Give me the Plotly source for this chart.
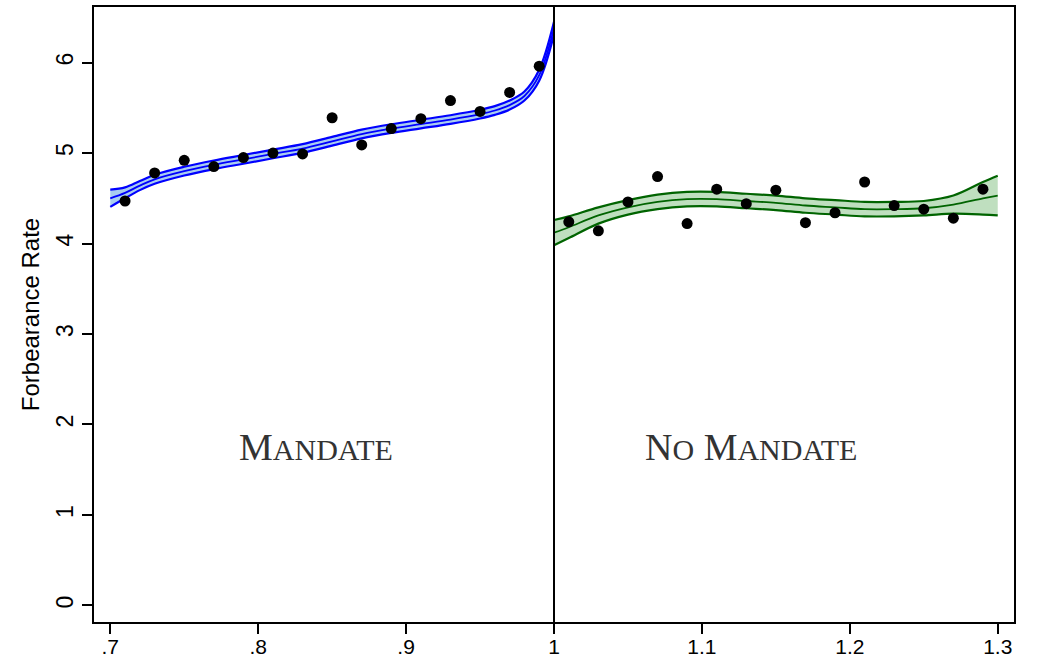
import plotly.graph_objects as go

# Binned means of the forbearance rate by running variable
mandate_x = [0.71, 0.73, 0.75, 0.77, 0.79, 0.81, 0.83, 0.85, 0.87, 0.89, 0.91, 0.93, 0.95, 0.97, 0.99]
mandate_y = [4.47, 4.78, 4.92, 4.85, 4.95, 5.00, 4.99, 5.39, 5.09, 5.27, 5.38, 5.58, 5.46, 5.67, 5.96]

nomandate_x = [1.01, 1.03, 1.05, 1.07, 1.09, 1.11, 1.13, 1.15, 1.17, 1.19, 1.21, 1.23, 1.25, 1.27, 1.29]
nomandate_y = [4.24, 4.14, 4.46, 4.74, 4.22, 4.60, 4.44, 4.59, 4.23, 4.34, 4.68, 4.42, 4.38, 4.28, 4.60]

# Local polynomial fit with confidence band, left of cutoff
fit_l_x = [0.70, 0.71, 0.72, 0.73, 0.75, 0.77, 0.79, 0.81, 0.83, 0.85, 0.87, 0.89,
           0.91, 0.93, 0.95, 0.96, 0.97, 0.98, 0.99, 1.00]
fit_l_y = [4.50, 4.56, 4.64, 4.71, 4.80, 4.87, 4.93, 4.99, 5.05, 5.13, 5.21, 5.27,
           5.32, 5.37, 5.43, 5.47, 5.53, 5.63, 5.86, 6.38]
fit_l_hw = [0.095, 0.06, 0.05, 0.05, 0.048, 0.048, 0.048, 0.048, 0.048, 0.048, 0.048, 0.048,
            0.048, 0.048, 0.048, 0.048, 0.05, 0.05, 0.06, 0.07]

# Local polynomial fit with confidence band, right of cutoff
fit_r_x = [1.00, 1.01, 1.03, 1.05, 1.07, 1.09, 1.11, 1.13, 1.15, 1.17, 1.19, 1.21,
           1.23, 1.25, 1.27, 1.29, 1.30]
fit_r_y = [4.12, 4.18, 4.31, 4.40, 4.46, 4.49, 4.49, 4.47, 4.45, 4.42, 4.40, 4.38,
           4.38, 4.39, 4.43, 4.50, 4.53]
fit_r_hw = [0.14, 0.12, 0.09, 0.08, 0.08, 0.08, 0.08, 0.08, 0.08, 0.08, 0.08, 0.08,
            0.08, 0.08, 0.10, 0.18, 0.22]

cutoff = 1.0
x_ticks = [0.7, 0.8, 0.9, 1.0, 1.1, 1.2, 1.3]
x_tick_text = [".7", ".8", ".9", "1", "1.1", "1.2", "1.3"]
y_ticks = [0, 1, 2, 3, 4, 5, 6]

fig = go.Figure()


def add_band(x, y, hw, line_color, fill_color):
    lo = [a - b for a, b in zip(y, hw)]
    hi = [a + b for a, b in zip(y, hw)]
    fig.add_trace(go.Scatter(x=x, y=lo, mode="lines", line=dict(color=line_color, width=2.2, shape="spline"),
                             hoverinfo="skip", showlegend=False))
    fig.add_trace(go.Scatter(x=x, y=hi, mode="lines", fill="tonexty", fillcolor=fill_color,
                             line=dict(color=line_color, width=2.2, shape="spline"),
                             hoverinfo="skip", showlegend=False))
    fig.add_trace(go.Scatter(x=x, y=y, mode="lines", line=dict(color=line_color, width=1.8, shape="spline"),
                             showlegend=False))


add_band(fit_l_x, fit_l_y, fit_l_hw, "#0000ff", "#a9cdf0")
add_band(fit_r_x, fit_r_y, fit_r_hw, "#006400", "#bfdfbf")

fig.add_trace(go.Scatter(x=mandate_x, y=mandate_y, mode="markers",
                         marker=dict(color="black", size=11), showlegend=False))
fig.add_trace(go.Scatter(x=nomandate_x, y=nomandate_y, mode="markers",
                         marker=dict(color="black", size=11), showlegend=False))

fig.add_shape(type="line", x0=cutoff, x1=cutoff, y0=0, y1=1, xref="x", yref="paper",
              line=dict(color="black", width=2))

label_font = dict(family="Liberation Serif, Times New Roman, serif", size=38, color="#333333")
fig.add_annotation(x=0.839, y=1.75, xref="x", yref="y", showarrow=False, font=label_font,
                   text="M<span style='font-size:30px'>ANDATE</span>")
fig.add_annotation(x=1.133, y=1.75, xref="x", yref="y", showarrow=False, font=label_font,
                   text="N<span style='font-size:30px'>O</span> M<span style='font-size:30px'>ANDATE</span>")

axis_font = dict(family="Liberation Sans, Arial, sans-serif", size=23, color="black")
x_font = dict(family="Liberation Sans, Arial, sans-serif", size=21, color="black")
fig.update_layout(
    width=1038, height=661,
    margin=dict(l=94, r=24, t=7, b=39),
    plot_bgcolor="white", paper_bgcolor="white",
    font=axis_font,
    xaxis=dict(range=[0.689, 1.311], tickvals=x_ticks, ticktext=x_tick_text,
               ticks="outside", ticklen=10, tickwidth=1.5, tickcolor="black",
               showline=True, linecolor="black", linewidth=1.8, mirror=True,
               showgrid=False, zeroline=False, tickfont=x_font, automargin=False,
               ticklabelstandoff=-5),
    yaxis=dict(range=[-0.183, 6.614], tickvals=y_ticks, tickangle=-90,
               ticks="outside", ticklen=10, tickwidth=1.5, tickcolor="black",
               showline=True, linecolor="black", linewidth=1.8, mirror=True,
               showgrid=False, zeroline=False, tickfont=axis_font, automargin=False,
               title=dict(text="Forbearance Rate", font=dict(family="Liberation Sans, Arial, sans-serif",
                                                             size=24, color="black"), standoff=6)),
)

fig.write_html("out.html")
